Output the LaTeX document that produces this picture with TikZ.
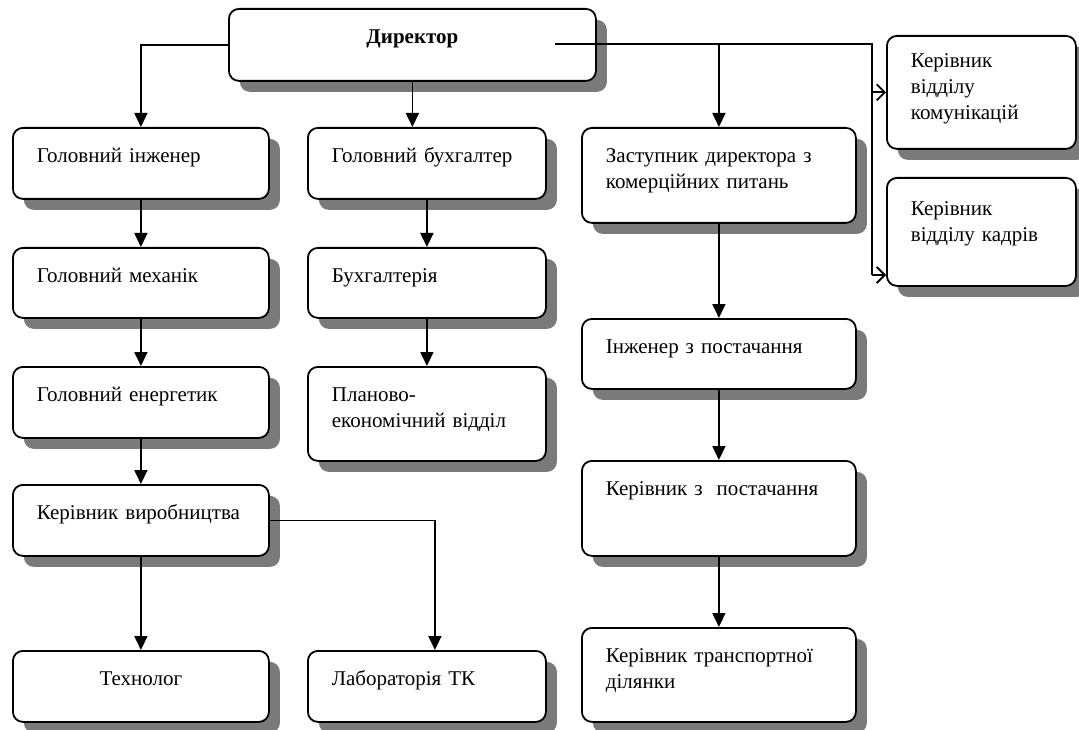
\documentclass[tikz,border=0pt]{standalone}
\usepackage{fontspec}
\setmainfont{Liberation Serif}
\usepackage{tikz}
\usetikzlibrary{arrows.meta,shadows}
\definecolor{shadowgray}{HTML}{7A7A7A}

\begin{document}
\begin{tikzpicture}[
  x=1pt,y=-1pt,
  box/.style={draw=black,line width=1.8pt,rounded corners=10pt,fill=white,
    drop shadow={shadow xshift=11pt,shadow yshift=-11pt,fill=shadowgray,opacity=1},
    anchor=north west,inner xsep=24pt,inner ysep=0pt,text height=35pt,
    align=left,font=\fontsize{21}{26}\selectfont},
  lcol/.style={box,text width=208pt,text depth=36pt},
  mcol/.style={box,text width=190pt,text depth=36pt},
  rcol/.style={box,text width=226pt,text depth=35pt},
  side/.style={box,text width=141pt},
  a/.style={-{Triangle[length=14pt,width=13pt]},line width=1.8pt},
  o/.style={-{Straight Barb[length=8pt,width=16pt]},line width=1.8pt}
]
\useasboundingbox (0,0) rectangle (1079,730);
% top
\node[box,text width=319pt,text depth=37pt,align=center,font=\fontsize{21}{26}\selectfont\bfseries] (dir) at (228,8) {Директор};
% left column
\node[lcol] (gi) at (12,127) {Головний інженер};
\node[lcol,text depth=35pt] (gm) at (12,247) {Головний механік};
\node[lcol] (ge) at (12,366) {Головний енергетик};
\node[lcol] (kv) at (12,484) {Керівник виробництва};
\node[lcol,align=center] (tech) at (12,650) {Технолог};
% middle column
\node[mcol] (gb) at (307,127) {Головний бухгалтер};
\node[mcol,text depth=35pt] (bukh) at (307,247) {Бухгалтерія};
\node[mcol,text depth=59pt] (plan) at (307,366) {Планово-\\економічний відділ};
\node[mcol] (lab) at (307,650) {Лабораторія ТК};
% right column
\node[rcol,text depth=60pt] (zast) at (581,127) {Заступник директора з\\комерційних питань};
\node[rcol] (inzh) at (581,318) {Інженер з постачання};
\node[rcol,text depth=60pt] (kpost) at (581,460) {Керівник з\ \ постачання};
\node[rcol,text depth=59pt] (ktr) at (581,627) {Керівник транспортної\\ділянки};
% side boxes
\node[side,text height=32pt,text depth=81pt] (kom) at (886,35) {Керівник\\відділу\\комунікацій};
\node[side,text height=38pt,text depth=70pt] (kad) at (886,177) {Керівник\\відділу кадрів};
% connectors
\coordinate (dirR) at (555,44);
\coordinate (busT) at (872,44);
\coordinate (busB) at (872,275);
\draw[a] (dir.west) -| (gi.north);
\draw[a] (dir.south) -- (dir.south |- gb.north);
\draw[line width=1.8pt] (dirR) -- (busT) -- (busB);
\draw[a] (dirR) -| (zast.north);
\draw[o] (busT |- kom.west) -- (kom.west);
\draw[o] (busB) -- (busB -| kad.west);
\draw[a] (gi.south) -- (gm.north);
\draw[a] (gm.south) -- (ge.north);
\draw[a] (ge.south) -- (kv.north);
\draw[a] (kv.south) -- (tech.north);
\draw[a] (kv.east) -| ([xshift=8pt]lab.north);
\draw[a] (gb.south) -- (bukh.north);
\draw[a] (bukh.south) -- (plan.north);
\draw[a] (zast.south) -- (inzh.north);
\draw[a] (inzh.south) -- (kpost.north);
\draw[a] (kpost.south) -- (ktr.north);
\end{tikzpicture}
\end{document}
